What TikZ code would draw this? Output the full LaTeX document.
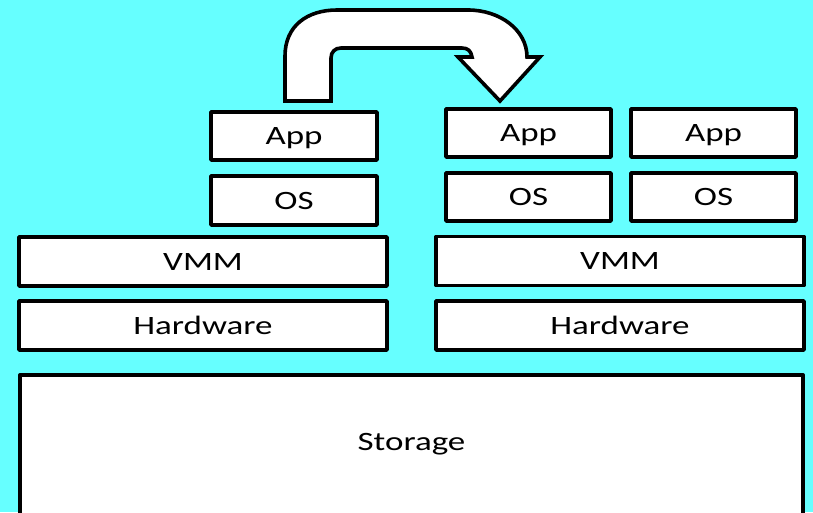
\documentclass[tikz,border=0pt]{standalone}
\usepackage{fontspec}
\newfontfamily\boxfont[FakeStretch=1.32]{Carlito}
\definecolor{skycyan}{RGB}{102,255,255}

\begin{document}
\begin{tikzpicture}[x=1pt, y=-1pt,
    box/.style={draw=black, fill=white, line width=3.6pt, line join=round, inner sep=0pt,
                text height=17pt, text depth=0pt,
                font=\boxfont\fontsize{26.5}{30}\selectfont},
    lbl/.style={inner sep=0pt, text height=17pt, text depth=0pt,
                font=\boxfont\fontsize{26.5}{30}\selectfont}]
    \useasboundingbox (0,0) rectangle (813,512);
    \fill[skycyan] (0,0) rectangle (813,512);
    \clip (0,0) rectangle (813,512);

    % left machine
    \node[box, minimum width=166pt, minimum height=48pt] (lapp) at (294, 136  ) {App};
    \node[box, minimum width=166pt, minimum height=49pt] (los)  at (294, 200.5) {OS};
    \node[box, minimum width=368pt, minimum height=49pt] (lvmm) at (203, 261.5) {VMM};
    \node[box, minimum width=368pt, minimum height=49pt] (lhw)  at (203, 325.5) {Hardware};

    % right machine
    \node[box, minimum width=165pt, minimum height=48pt] (rapp)  at (528.5, 133) {App};
    \node[box, minimum width=165pt, minimum height=48pt] (rappb) at (713.5, 133) {App};
    \node[box, minimum width=165pt, minimum height=48pt] (ros)   at (528.5, 197) {OS};
    \node[box, minimum width=165pt, minimum height=48pt] (rosb)  at (713.5, 197) {OS};
    \node[box, minimum width=368pt, minimum height=49pt] (rvmm)  at (620, 261  ) {VMM};
    \node[box, minimum width=368pt, minimum height=49pt] (rhw)   at (620, 325.5) {Hardware};

    % shared storage
    \node[box, minimum width=783pt, minimum height=170pt, anchor=north] (storage) at (411.5, 373) {};
    \node[lbl] (storagetext) at (411.5, 441.5) {Storage};

    % migration arrow
    \draw[line width=3.6pt, fill=white]
        (285,101) -- (285,56) .. controls (285,26) and (307,10) .. (337,10)
        -- (468,10) .. controls (500,10) and (527,30) .. (527,57)
        -- (540,57) -- (500,101) -- (458,57) -- (472,57)
        .. controls (471,51) and (468,48) .. (462,48)
        -- (341,48) .. controls (335,48) and (331,52) .. (331,58)
        -- (331,101) -- cycle;
\end{tikzpicture}
\end{document}
